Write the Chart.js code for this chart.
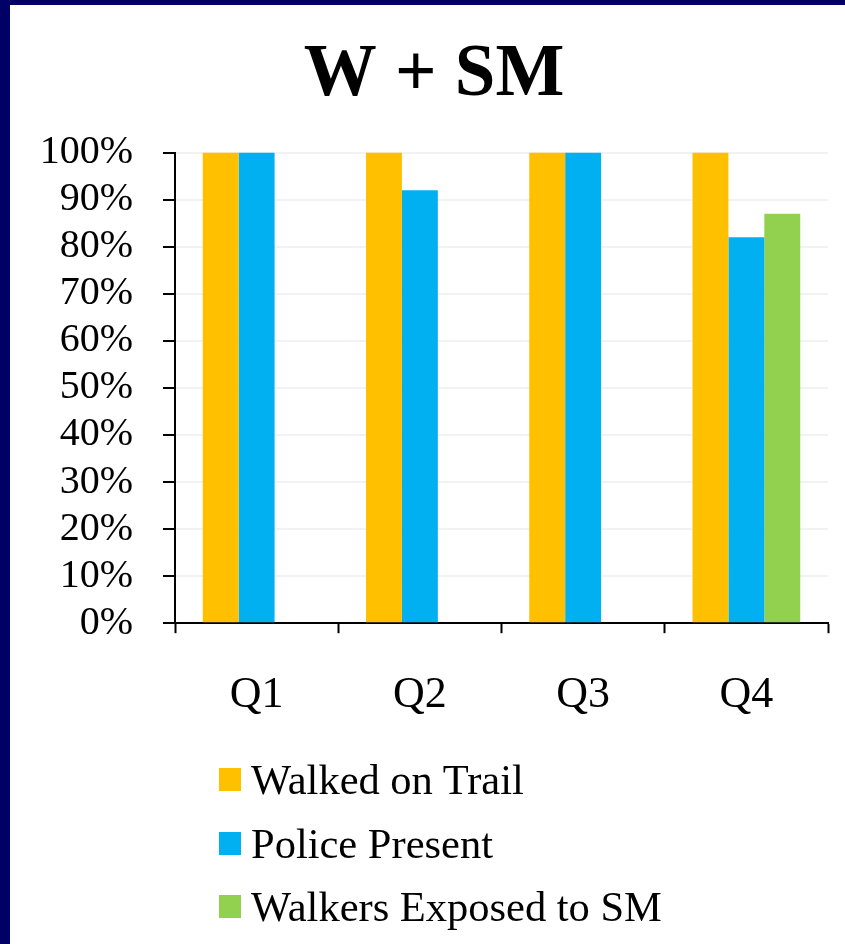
<!DOCTYPE html>
<html>
<head>
<meta charset="utf-8">
<script src="https://cdn.jsdelivr.net/npm/chart.js@4/dist/chart.umd.min.js"></script>
<style>
  html, body { margin: 0; padding: 0; background: #ffffff; }
  #frame {
    position: absolute; left: 0; top: 0; width: 845px; height: 944px;
    background: #000066;
  }
  #panel {
    position: absolute; left: 10px; top: 5px; width: 835px; height: 939px;
    background: #ffffff;
  }
  #chart { position: absolute; left: 0; top: 0; }
  #legend {
    position: absolute; left: 209px; top: 743px;
    list-style: none; margin: 0; padding: 0;
    font-family: "Liberation Serif", "Times New Roman", serif;
    font-size: 42.5px; color: #000;
  }
  #legend li { display: flex; align-items: center; height: 63.5px; white-space: nowrap; }
  #legend .sw { display: inline-block; width: 22px; height: 23px; margin-right: 10px; }
</style>
</head>
<body>
<div id="frame"><div id="panel">
  <canvas id="chart" width="835" height="939"></canvas>
  <ul id="legend"></ul>
</div></div>
<script>
// Quarterly survey shares, in percent
const quarters = ["Q1", "Q2", "Q3", "Q4"];
const walkedOnTrail = [100, 100, 100, 100];
const policePresent = [100, 92, 100, 82];
const walkersExposed = [null, null, null, 87];
const seriesNames = ["Walked on Trail", "Police Present", "Walkers Exposed to SM"];
const seriesColors = ["#FFC000", "#00B0F0", "#92D050"];
const yTicks = [0, 10, 20, 30, 40, 50, 60, 70, 80, 90, 100];

const serif = "'Liberation Serif', 'Times New Roman', serif";

const chart = new Chart(document.getElementById("chart"), {
  type: "bar",
  data: {
    labels: quarters,
    datasets: [walkedOnTrail, policePresent, walkersExposed].map((d, i) => ({
      label: seriesNames[i],
      data: d,
      backgroundColor: seriesColors[i],
      borderWidth: 0,
      categoryPercentage: 0.66,
      barPercentage: 1.0
    }))
  },
  options: {
    responsive: false,
    animation: false,
    layout: { padding: { left: 30, right: 17, top: 0, bottom: 186 } },
    plugins: {
      legend: { display: false },
      tooltip: { enabled: false },
      title: {
        display: true,
        text: "W + SM",
        color: "#000",
        font: { family: serif, size: 73, weight: "bold" },
        padding: { top: 27, bottom: 33 }
      }
    },
    scales: {
      x: {
        grid: {
          offset: true,
          drawOnChartArea: false,
          drawTicks: true,
          tickLength: 10,
          tickColor: "#000",
          tickWidth: 2
        },
        border: { color: "#000", width: 2 },
        ticks: {
          color: "#000",
          padding: 36,
          font: { family: serif, size: 44 }
        }
      },
      y: {
        min: 0,
        max: 100,
        afterBuildTicks: (axis) => { axis.ticks = yTicks.map(v => ({ value: v })); },
        afterFit: (axis) => { axis.width = 135; },
        grid: {
          color: "#f2f2f2",
          lineWidth: 2,
          tickLength: 12,
          tickColor: "#000",
          tickWidth: 2
        },
        border: { color: "#000", width: 2 },
        ticks: {
          color: "#000",
          padding: 30,
          autoSkip: false,
          font: { family: serif, size: 40 },
          callback: (v) => v + "%"
        }
      }
    }
  }
});

// Vertical legend built from the chart's datasets
const legend = document.getElementById("legend");
chart.data.datasets.forEach((ds) => {
  const li = document.createElement("li");
  const sw = document.createElement("span");
  sw.className = "sw";
  sw.style.background = ds.backgroundColor;
  li.appendChild(sw);
  li.appendChild(document.createTextNode(ds.label));
  legend.appendChild(li);
});
</script>
</body>
</html>
